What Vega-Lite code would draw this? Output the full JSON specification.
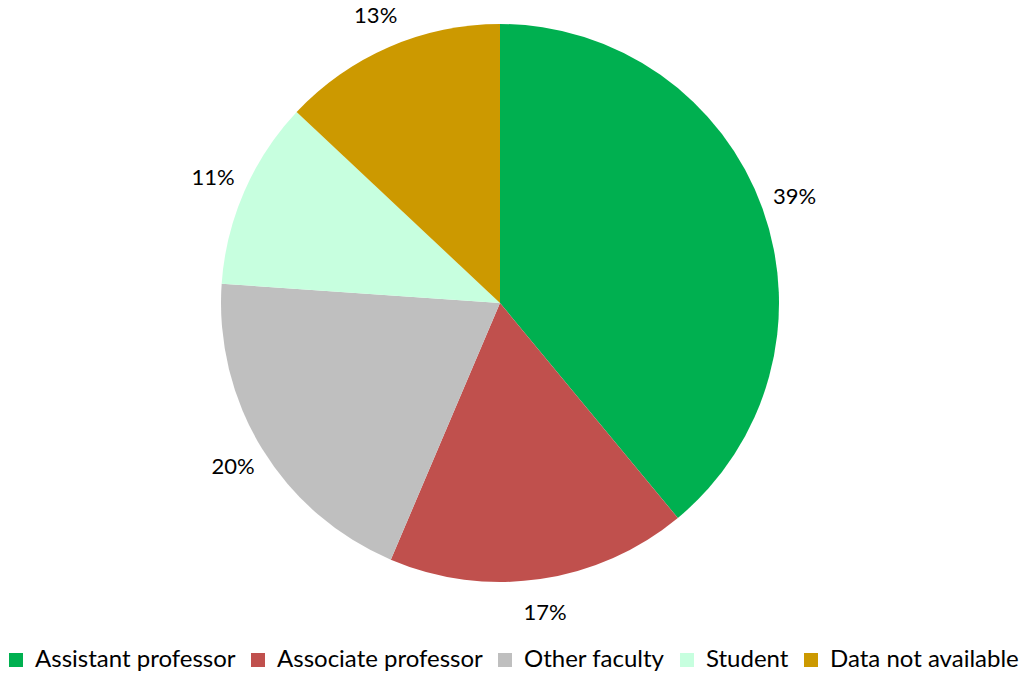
{
  "$schema": "https://vega.github.io/schema/vega-lite/v6.json",
  "width": 1000,
  "height": 606,
  "autosize": {"type": "none"},
  "padding": {"left": 0, "top": 0, "right": 31, "bottom": 73},
  "background": "white",
  "config": {"view": {"stroke": null}, "font": "Lato"},
  "data": {"values": [
    {"idx": 1, "category": "Assistant professor", "value": 39.0, "label": "39%"},
    {"idx": 2, "category": "Associate professor", "value": 17.4, "label": "17%"},
    {"idx": 3, "category": "Other faculty", "value": 19.7, "label": "20%"},
    {"idx": 4, "category": "Student", "value": 10.9, "label": "11%"},
    {"idx": 5, "category": "Data not available", "value": 13.0, "label": "13%"}
  ]},
  "encoding": {
    "theta": {"field": "value", "type": "quantitative", "stack": true},
    "order": {"field": "idx", "type": "quantitative"}
  },
  "layer": [
    {
      "mark": {"type": "arc", "outerRadius": 279},
      "encoding": {
        "color": {
          "field": "category", "type": "nominal",
          "scale": {
            "domain": ["Assistant professor", "Associate professor", "Other faculty", "Student", "Data not available"],
            "range": ["#00B050", "#C0504D", "#BFBFBF", "#C7FFDF", "#CC9900"]
          },
          "sort": null,
          "legend": {
            "title": null,
            "orient": "none",
            "direction": "horizontal",
            "legendX": 4,
            "legendY": 648,
            "symbolType": "square",
            "symbolSize": 196,
            "symbolStrokeWidth": 0,
            "labelFontSize": 24,
            "labelColor": "black",
            "labelOffset": 7,
            "columnPadding": 10,
            "labelLimit": 400
          }
        }
      }
    },
    {
      "mark": {"type": "text", "radius": 313, "fontSize": 22, "color": "black"},
      "encoding": {"text": {"field": "label", "type": "nominal"}}
    }
  ]
}
